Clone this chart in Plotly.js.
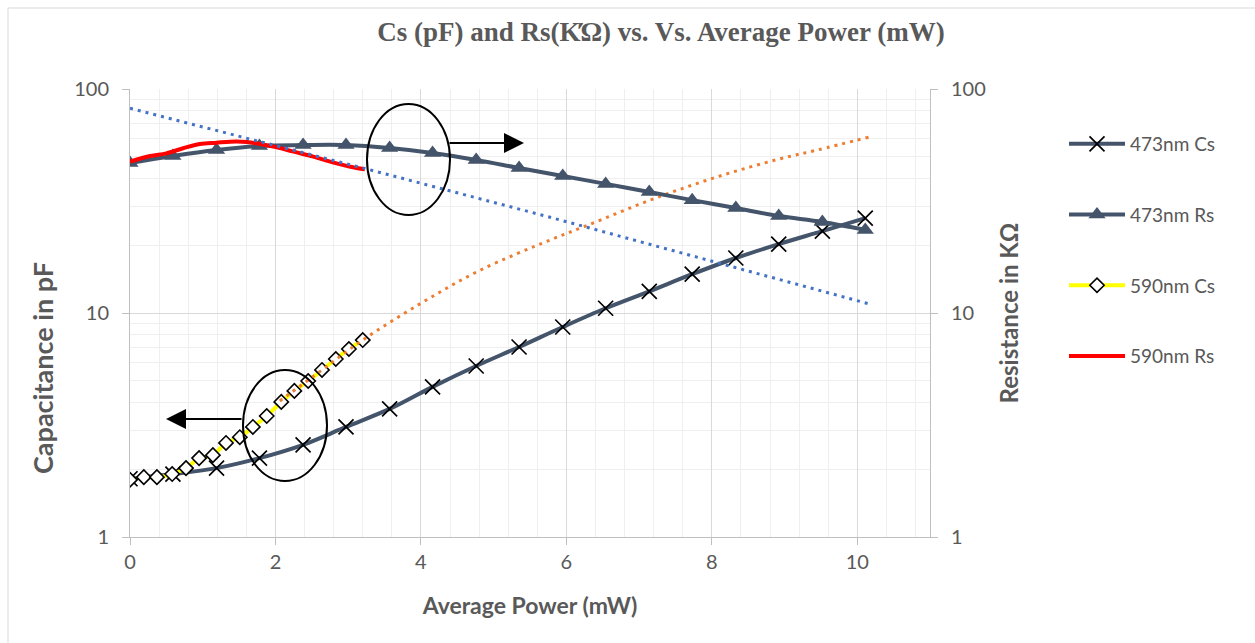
<!DOCTYPE html>
<html>
<head>
<meta charset="utf-8">
<script src="https://cdn.plot.ly/plotly-3.0.1.min.js"></script>
<style>html,body{margin:0;padding:0;background:#fff;}#chart{width:1255px;height:643px;}</style>
</head>
<body>
<div id="chart"></div>
<script>
// ---- data ----
const power473 = [0, 0.59, 1.19, 1.78, 2.38, 2.97, 3.57, 4.16, 4.76, 5.35, 5.95, 6.54, 7.14, 7.73, 8.33, 8.92, 9.52, 10.11];
const cs473 = [1.82, 1.91, 2.03, 2.25, 2.58, 3.10, 3.73, 4.68, 5.80, 7.05, 8.66, 10.5, 12.5, 14.9, 17.6, 20.3, 23.2, 26.5];
const rs473 = [46.7, 50.2, 53.4, 55.7, 56.2, 56.2, 54.5, 51.8, 48.2, 44.4, 40.9, 37.7, 34.7, 31.9, 29.4, 27.1, 25.5, 23.5];

const power590cs = [0, 0.19, 0.37, 0.58, 0.77, 0.95, 1.14, 1.32, 1.51, 1.69, 1.88, 2.08, 2.26, 2.45, 2.64, 2.83, 3.01, 3.20];
const cs590 = [1.80, 1.85, 1.85, 1.91, 2.03, 2.25, 2.32, 2.63, 2.79, 3.10, 3.47, 4.01, 4.49, 4.97, 5.57, 6.23, 6.91, 7.57];

const power590rs = [0, 0.28, 0.50, 0.73, 0.96, 1.19, 1.38, 1.61, 1.79, 2.02, 2.25, 2.52, 2.80, 3.03, 3.23];
const rs590 = [47.4, 50.2, 51.6, 54.4, 56.8, 57.6, 58.2, 58.0, 56.8, 54.9, 52.5, 49.9, 46.9, 45.0, 43.8];

const trendCsX = [2.06, 2.64, 3.20, 3.99, 4.81, 5.78, 6.23, 6.70, 7.15, 7.61, 8.07, 8.53, 8.98, 9.45, 10.17];
const trendCsY = [4.05, 5.57, 7.57, 11.0, 15.5, 21.2, 24.2, 27.9, 31.9, 36.1, 40.5, 44.9, 49.2, 53.4, 61.1];

const trendRsX = [0, 1.79, 3.26, 5.75, 10.2];
const trendRsY = [82, 58.2, 43.9, 26.9, 10.9];

const names = ['473nm Cs', '473nm Rs', '590nm Cs', '590nm Rs'];
const titleText = 'Cs (pF) and Rs(KΏ) vs. Vs. Average Power (mW)';
const xTitle = 'Average Power (mW)';
const yTitle = 'Capacitance in pF';
const y2Title = 'Resistance in KΩ';

// ---- styling ----
const slate = '#44546A';
const grey = '#595959';
const font = 'Lato, "Liberation Sans", sans-serif';

const traces = [
  {x: power473, y: cs473, name: names[0], legendrank: 1, legendgroup: 'a', yaxis: 'y',
   mode: 'lines+markers', line: {color: slate, width: 4, shape: 'spline'},
   marker: {symbol: 'x-thin', size: 15, color: '#000', line: {color: '#000', width: 1.7}}},
  {x: power590cs, y: cs590, name: names[2], legendrank: 3, legendgroup: 'c', yaxis: 'y',
   mode: 'lines+markers', line: {color: '#FFFF00', width: 4, shape: 'spline'},
   marker: {symbol: 'diamond', size: 11, color: '#fff', line: {color: '#000', width: 1.6}}},
  {x: trendCsX, y: trendCsY, name: 'trend Cs', showlegend: false, yaxis: 'y',
   mode: 'lines', line: {color: '#ED7D31', width: 3, dash: '3px,5px', shape: 'spline'}},
  {x: power473, y: rs473, name: names[1], legendrank: 2, legendgroup: 'b', yaxis: 'y2',
   mode: 'lines+markers', line: {color: slate, width: 4, shape: 'spline'},
   marker: {symbol: 'triangle-up', size: 15, color: slate}},
  {x: power590rs, y: rs590, name: names[3], legendrank: 4, legendgroup: 'd', yaxis: 'y2',
   mode: 'lines', line: {color: '#FF0000', width: 4, shape: 'spline'}},
  {x: trendRsX, y: trendRsY, name: 'trend Rs', showlegend: false, yaxis: 'y2',
   mode: 'lines', line: {color: '#4472C4', width: 3, dash: '3px,5px'}}
];

const L = 130, R = 930, T = 89, B = 537;
const px = v => (v - L) / (R - L);
const py = v => (B - v) / (B - T);

const logAxis = {
  type: 'log', range: [0, 2], tickvals: [1, 10, 100], ticktext: ['1', '10', '100'],
  showgrid: true, gridcolor: '#d9d9d9', gridwidth: 1,
  minor: {tickvals: [2,3,4,5,6,7,8,9,20,30,40,50,60,70,80,90], showgrid: true, gridcolor: '#efefef', gridwidth: 1, ticks: ''},
  showline: true, linecolor: '#bfbfbf', linewidth: 1,
  ticks: 'outside', ticklen: 7, tickcolor: '#bfbfbf',
  ticklabelstandoff: 9,
  tickfont: {family: font, size: 20, color: grey},
  zeroline: false, fixedrange: true
};

const layout = {
  width: 1255, height: 643,
  paper_bgcolor: '#fff', plot_bgcolor: '#fff',
  margin: {l: L, r: 1255 - R, t: T, b: 643 - B, pad: 0},
  font: {family: font, color: grey},
  title: {text: titleText, font: {family: '"Liberation Serif", "Times New Roman", serif', size: 27, color: grey, weight: 'bold'},
          x: 661 / 1255, xanchor: 'center', y: 1 - 32 / 643, yanchor: 'middle'},
  xaxis: {
    range: [0, 11], dtick: 2, tick0: 0,
    showgrid: true, gridcolor: '#d9d9d9', gridwidth: 1,
    minor: {dtick: 0.4, tick0: 0, showgrid: true, gridcolor: '#efefef', gridwidth: 1, ticks: ''},
    showline: true, linecolor: '#bfbfbf', linewidth: 1,
    ticks: 'outside', ticklen: 7, tickcolor: '#bfbfbf',
    tickfont: {family: font, size: 20, color: grey},
    zeroline: false,
    title: {text: xTitle, font: {family: font, size: 23, color: grey, weight: 'bold'}, standoff: 25}
  },
  yaxis: Object.assign({}, logAxis, {side: 'left'}),
  yaxis2: Object.assign({}, logAxis, {
    overlaying: 'y', side: 'right', showgrid: false, minor: {showgrid: false, ticks: ''},
    title: {text: y2Title, font: {family: font, size: 24, color: grey, weight: 'bold'}, standoff: 16}
  }),
  showlegend: true,
  legend: {
    x: px(1064), xanchor: 'left', y: py(125), yanchor: 'top',
    traceorder: 'grouped', tracegroupgap: 43, itemwidth: 56,
    font: {family: font, size: 19, color: grey}, bgcolor: 'rgba(0,0,0,0)'
  },
  shapes: [
    {type: 'rect', xref: 'paper', yref: 'paper', x0: px(8), x1: px(1400), y0: py(800), y1: py(8),
     line: {color: '#d9d9d9', width: 1}, layer: 'below'},
    {type: 'circle', xref: 'paper', yref: 'paper', x0: px(367), x1: px(450), y0: py(215), y1: py(104),
     line: {color: '#000', width: 2}},
    {type: 'circle', xref: 'paper', yref: 'paper', x0: px(243), x1: px(327), y0: py(481), y1: py(370),
     line: {color: '#000', width: 2}}
  ],
  annotations: [
    {xref: 'paper', yref: 'paper', x: px(42), y: py(368), text: yTitle, textangle: -90,
     showarrow: false, xanchor: 'center', yanchor: 'middle',
     font: {family: font, size: 27, color: grey, weight: 'bold'}},
    {xref: 'paper', yref: 'paper', x: px(524), y: py(143), text: '', showarrow: true,
     ax: -76, ay: 0, arrowhead: 2, arrowsize: 2, arrowwidth: 2, arrowcolor: '#000'},
    {xref: 'paper', yref: 'paper', x: px(166), y: py(419), text: '', showarrow: true,
     ax: 77, ay: 0, arrowhead: 2, arrowsize: 2, arrowwidth: 2, arrowcolor: '#000'}
  ]
};

Plotly.newPlot('chart', traces, layout, {displayModeBar: false, staticPlot: true});
</script>
</body>
</html>
